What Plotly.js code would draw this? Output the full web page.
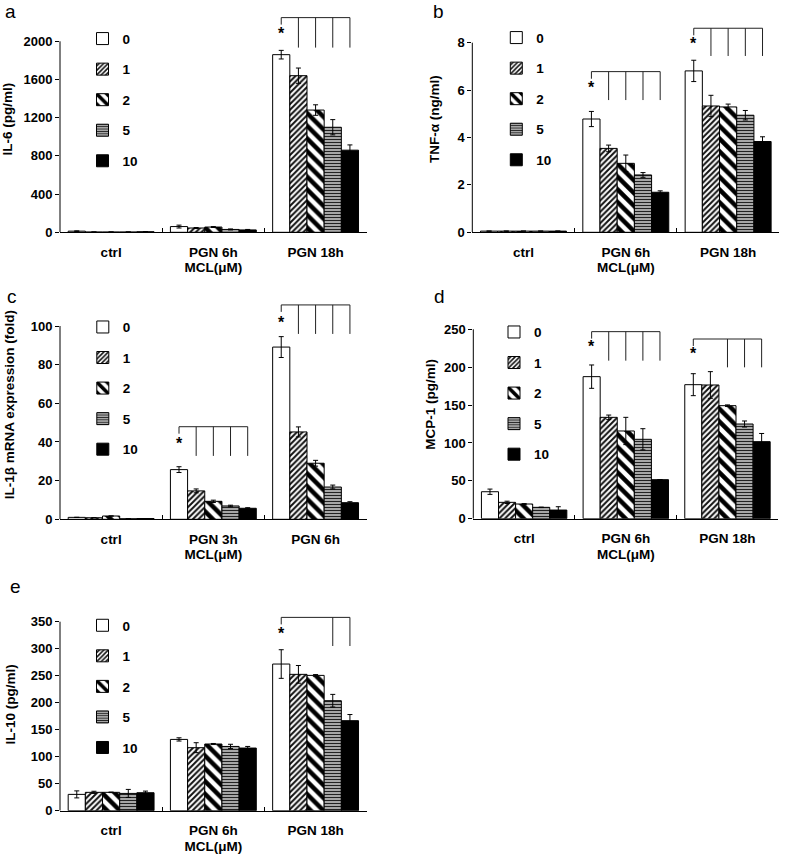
<!DOCTYPE html>
<html><head><meta charset="utf-8">
<script src="https://cdn.plot.ly/plotly-3.0.1.min.js"></script>
<style>html,body{margin:0;padding:0;background:#fff}</style>
</head><body><div id="chart" style="width:787px;height:867px"></div>
<script>
// ---------------- data ----------------
const doses = ['0', '1', '2', '5', '10'];
const catsA = ['ctrl', 'PGN 6h', 'PGN 18h'];
const catsC = ['ctrl', 'PGN 3h', 'PGN 6h'];

// rows = MCL dose (0,1,2,5,10), columns = categories
const il6Means = [[12, 60, 1860], [3, 45, 1640], [3, 55, 1280], [3, 30, 1100], [6, 25, 860]];
const il6Errs  = [[3, 15, 45], [0, 5, 80], [0, 5, 55], [0, 5, 80], [0, 5, 55]];
const il6Ticks = [0, 400, 800, 1200, 1600, 2000];

const tnfMeans = [[0.05, 4.78, 6.81], [0.05, 3.54, 5.33], [0.05, 2.91, 5.29], [0.05, 2.42, 4.94], [0.05, 1.69, 3.83]];
const tnfErrs  = [[0, 0.32, 0.45], [0, 0.14, 0.45], [0, 0.35, 0.12], [0, 0.1, 0.2], [0, 0.06, 0.2]];
const tnfTicks = [0, 2, 4, 6, 8];

const il1Means = [[1.0, 25.7, 89.1], [0.8, 14.7, 45.2], [1.7, 9.3, 29.0], [0.3, 6.9, 16.7], [0.4, 5.7, 8.6]];
const il1Errs  = [[0, 1.5, 5.4], [0, 1.0, 2.6], [0, 0.6, 1.5], [0, 0.4, 1.0], [0, 0.3, 0.5]];
const il1Ticks = [0, 20, 40, 60, 80, 100];

const mcpMeans = [[35.6, 187.5, 176.9], [21.6, 133.8, 176.5], [19.4, 115.8, 149.2], [15, 104.8, 125], [11.4, 51.5, 101.7]];
const mcpErrs  = [[3.5, 15.4, 14.5], [1.5, 3, 17.6], [0.5, 18, 1], [0.3, 14, 4], [4.4, 0, 10.8]];
const mcpTicks = [0, 50, 100, 150, 200, 250];

const il10Means = [[30.2, 132, 271.6], [34, 116.7, 252.5], [34, 123.5, 250.6], [32, 119, 203.7], [33.3, 116, 166.7]];
const il10Errs  = [[6.5, 3, 26.5], [2, 9.2, 16.4], [0.5, 1, 1.5], [7.4, 4, 11.7], [3, 3, 11.4]];
const il10Ticks = [0, 50, 100, 150, 200, 250, 300, 350];

// significance brackets: category index, bracket top, left leg end, tick end, star level, compared doses
const il6Sig  = [{g: 2, top: 2248, leg: 2175, bot: 1934, star: 2084, bars: [1, 2, 3, 4]}];
const tnfSig  = [{g: 1, top: 6.78, leg: 6.48, bot: 5.58, star: 6.12, bars: [1, 2, 3, 4]},
                 {g: 2, top: 8.61, leg: 8.31, bot: 7.44, star: 7.97, bars: [1, 2, 3, 4]}];
const il1Sig  = [{g: 1, top: 47.9, leg: 44.3, bot: 32.8, star: 39.3, bars: [1, 2, 3, 4]},
                 {g: 2, top: 110.9, leg: 107.3, bot: 95.9, star: 102, bars: [1, 2, 3, 4]}];
const mcpSig  = [{g: 1, top: 246.9, leg: 237.7, bot: 208.6, star: 227, bars: [1, 2, 3, 4]},
                 {g: 2, top: 237.2, leg: 228, bot: 199.8, star: 218, bars: [2, 3, 4]}];
const il10Sig = [{g: 2, top: 358, leg: 345, bot: 305, star: 328, bars: [3, 4]}];

// ---------------- styling / layout ----------------
const W = 787, H = 867;
const FONT = 'Liberation Sans, Arial, sans-serif';
const BOLD = {family: FONT, size: 13.5, weight: 'bold', color: '#000'};
const TICKY = {family: FONT, size: 13, weight: 'bold', color: '#000'};

const styles = [
  {color: '#ffffff', pattern: {shape: ''}},
  {color: '#ffffff', pattern: {shape: '/', fgcolor: '#111', bgcolor: '#fff', size: 4, solidity: 0.5}},
  {color: '#ffffff', pattern: {shape: '\\', fgcolor: '#000', bgcolor: '#fff', size: 9, solidity: 0.5}},
  {color: '#ffffff', pattern: {shape: '-', fgcolor: '#222', bgcolor: '#fff', size: 3, solidity: 0.6}},
  {color: '#000000', pattern: {shape: ''}}
];

const panels = [
  {letter: 'a', cats: catsA, means: il6Means, errs: il6Errs, ticks: il6Ticks, sig: il6Sig, title: 'IL-6 (pg/ml)',
   box: {x0: 60, x1: 366.7, zero: 232.3, tickPx: 41.3, top: 6}, leg: {sx: 102.5, y0: 38.3}, lp: [10, 12], ystand: 7},
  {letter: 'b', cats: catsA, means: tnfMeans, errs: tnfErrs, ticks: tnfTicks, sig: tnfSig, title: 'TNF-α (ng/ml)',
   box: {x0: 472.3, x1: 779.3, zero: 232.3, tickPx: 42.7, top: 6}, leg: {sx: 516.3, y0: 37.3}, lp: [438, 12], ystand: 14},
  {letter: 'c', cats: catsC, means: il1Means, errs: il1Errs, ticks: il1Ticks, sig: il1Sig, title: 'IL-1β mRNA expression (fold)',
   box: {x0: 60, x1: 366.7, zero: 519.3, tickPx: 326, top: 290}, leg: {sx: 102.8, y0: 326.7}, lp: [12, 297], ystand: 12},
  {letter: 'd', cats: catsA, means: mcpMeans, errs: mcpErrs, ticks: mcpTicks, sig: mcpSig, title: 'MCP-1 (pg/ml)',
   box: {x0: 473.3, x1: 778.3, zero: 518.7, tickPx: 329.3, top: 290}, leg: {sx: 514, y0: 331.7}, lp: [439, 296], ystand: 5},
  {letter: 'e', cats: catsA, means: il10Means, errs: il10Errs, ticks: il10Ticks, sig: il10Sig, title: 'IL-10 (pg/ml)',
   box: {x0: 60, x1: 366.7, zero: 810.7, tickPx: 621.7, top: 598}, leg: {sx: 102.5, y0: 625}, lp: [15, 586], ystand: 11}
];

const BARGAP = 0.16;
const barW = (1 - BARGAP) / 5;
function barCenter(g, i) { return g - (1 - BARGAP) / 2 + barW * (i + 0.5); }

const data = [];
const layout = {
  width: W, height: H, autosize: false,
  margin: {l: 0, r: 0, t: 0, b: 0},
  paper_bgcolor: '#fff', plot_bgcolor: 'rgba(0,0,0,0)',
  barmode: 'group', bargap: BARGAP, bargroupgap: 0,
  font: {family: FONT, color: '#000'},
  shapes: [], annotations: []
};

panels.forEach((p, k) => {
  const n = k === 0 ? '' : String(k + 1);
  const xid = 'x' + n, yid = 'y' + n, legId = 'legend' + n;
  const b = p.box;
  const tickTop = p.ticks[p.ticks.length - 1];
  const rangeTop = (b.zero - b.top) / (b.zero - b.tickPx) * tickTop;

  layout['xaxis' + n] = {
    domain: [b.x0 / W, b.x1 / W], anchor: yid, type: 'category', categoryarray: p.cats,
    range: [-0.5, 2.5], showline: true, linecolor: '#000', linewidth: 1, mirror: false,
    ticks: 'inside', tickson: 'boundaries', ticklen: 4, tickcolor: '#000', tickwidth: 1,
    showgrid: false, zeroline: false, tickfont: BOLD, ticklabelstandoff: 7, automargin: false,
    title: {text: 'MCL(μM)', font: BOLD, standoff: 4}
  };
  layout['yaxis' + n] = {
    domain: [1 - b.zero / H, 1 - b.top / H], anchor: xid, range: [0, rangeTop],
    tickvals: p.ticks, ticktext: p.ticks.map(String), ticks: 'outside', ticklen: 4, tickcolor: '#000', tickwidth: 1,
    showline: false, showgrid: false, zeroline: false, tickfont: TICKY, automargin: false,
    title: {text: p.title, font: BOLD, standoff: p.ystand}
  };
  layout[legId] = {
    x: (p.leg.sx - 20) / W, xanchor: 'left', y: 1 - (p.leg.y0 - 15) / H, yanchor: 'top',
    bgcolor: 'rgba(0,0,0,0)', borderwidth: 0, font: BOLD, tracegroupgap: 10, traceorder: 'grouped'
  };

  doses.forEach((d, i) => {
    data.push({
      type: 'bar', x: p.cats, y: p.means[i], name: d, xaxis: xid, yaxis: yid,
      legend: legId, legendgroup: p.letter + d,
      marker: {color: styles[i].color, line: {color: '#000', width: 1}, pattern: styles[i].pattern},
      error_y: {type: 'data', array: p.errs[i], visible: true, color: '#000', thickness: 1, width: 2.5},
      hoverinfo: 'skip'
    });
  });

  // y axis line (only up to top tick)
  layout.shapes.push({type: 'line', xref: 'paper', yref: yid, x0: b.x0 / W, x1: b.x0 / W, y0: 0, y1: tickTop,
    line: {color: '#000', width: 1}});

  // significance brackets
  p.sig.forEach(s => {
    const xL = barCenter(s.g, 0), xR = barCenter(s.g, s.bars[s.bars.length - 1]);
    const ln = {color: '#222', width: 1};
    layout.shapes.push({type: 'line', xref: xid, yref: yid, x0: xL, x1: xR, y0: s.top, y1: s.top, line: ln});
    layout.shapes.push({type: 'line', xref: xid, yref: yid, x0: xL, x1: xL, y0: s.top, y1: s.leg, line: ln});
    s.bars.forEach(i => {
      const xc = barCenter(s.g, i);
      layout.shapes.push({type: 'line', xref: xid, yref: yid, x0: xc, x1: xc, y0: s.top, y1: s.bot, line: ln});
    });
    layout.annotations.push({xref: xid, yref: yid, x: xL, y: s.star, text: '*', showarrow: false,
      xanchor: 'center', yanchor: 'middle', yshift: 0, font: {family: FONT, size: 16, weight: 'bold', color: '#000'}});
  });

  // panel letter
  layout.annotations.push({xref: 'paper', yref: 'paper', x: p.lp[0] / W, y: 1 - p.lp[1] / H, text: p.letter,
    showarrow: false, xanchor: 'center', yanchor: 'middle', font: {family: FONT, size: 19, color: '#000'}});
});

Plotly.newPlot('chart', data, layout, {displayModeBar: false, staticPlot: true});
</script>
</body></html>
